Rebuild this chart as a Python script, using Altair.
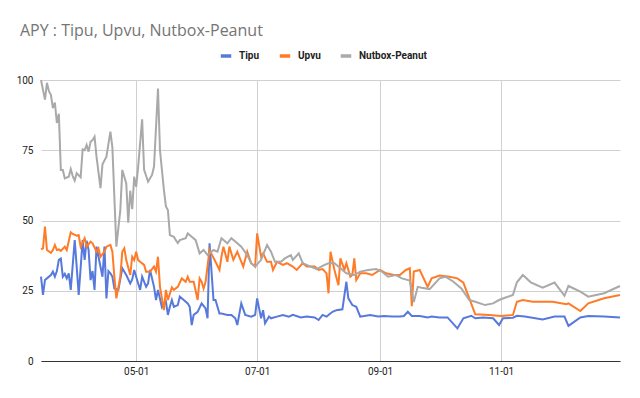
import altair as alt
import pandas as pd

START = "2021-03-14"

# day offsets from START and values
tipu_day = [0, 1, 2, 3, 5, 6, 7, 8, 9, 10, 11, 12, 13, 14, 15, 17, 18, 19, 21, 22, 23, 24, 25, 26, 27, 28, 29,
            31, 32, 33, 34, 35, 36, 37, 39, 41, 43, 45, 46, 47, 49, 50, 51, 53, 54, 55, 57, 58, 59, 61, 63, 64,
            65, 66, 67, 69, 70, 72, 74, 75, 76, 77, 79, 81, 83, 84, 85, 87, 88, 90, 91, 94, 96, 98, 99, 101,
            103, 106, 108, 109, 111, 112, 113, 115, 116, 119, 122, 125, 127, 131, 134, 138, 140, 142, 144, 147,
            149, 152, 154, 155, 157, 159, 161, 163, 166, 170, 173, 177, 181, 183, 185, 187, 191, 195, 197, 201,
            205, 210, 213, 217, 219, 223, 228, 231, 233, 238, 240, 244, 253, 259, 264, 266, 272, 276, 284, 292]
tipu_val = [30, 23.5, 28.8, 29.4, 30.6, 31.8, 30, 32, 36, 36.5, 30, 31, 29.4, 31.2, 25.3, 43, 33.6, 23.5, 43, 36,
            42.8, 39.5, 28.8, 32, 25.3, 40.7, 37.1, 30, 40.7, 22.3, 32, 31.2, 30, 25.8, 25.3, 33, 30.6, 27.6, 29,
            32.4, 27.6, 25.3, 30, 26.4, 27.6, 32.4, 26.4, 21.7, 25.3, 19.1, 21.1, 16.4, 19.3, 21.7, 19.3, 19.9,
            22.9, 21.7, 20.5, 19.3, 12.8, 16.4, 17.5, 20.5, 18.7, 15.2, 41.9, 21.7, 21.7, 16.9, 16.9, 16.4, 16.4,
            15.2, 12.8, 20.5, 16.4, 15.8, 16.4, 22.3, 15.2, 18.1, 13.4, 15.8, 15.2, 15.8, 16.4, 15.8, 16.4, 15.5,
            15.8, 15.5, 14.6, 16.4, 15.8, 17.5, 18.1, 18.4, 28.2, 22.3, 19.9, 19.3, 15.8, 16, 16.4, 15.8, 16, 15.8,
            15.8, 16, 17.5, 16, 16, 15.5, 15.8, 15.5, 15.5, 11.6, 15.2, 16.1, 15.2, 15.5, 15.2, 12.8, 15.2, 15.4,
            16.1, 15.8, 14.8, 15.8, 15.8, 12.5, 15.5, 16, 15.8, 15.5]

upvu_day = [0, 1, 2, 3, 5, 6, 7, 8, 9, 10, 12, 13, 15, 16, 18, 19, 20, 22, 23, 25, 26, 28, 29, 30, 32, 33, 35,
            36, 37, 38, 40, 41, 42, 43, 45, 46, 47, 48, 49, 50, 52, 53, 55, 57, 58, 59, 60, 62, 63, 64, 66, 67,
            69, 71, 73, 74, 75, 77, 79, 80, 81, 82, 83, 85, 88, 90, 91, 92, 94, 95, 97, 99, 100, 102, 104, 106,
            108, 109, 111, 112, 114, 116, 117, 119, 122, 124, 127, 129, 132, 134, 138, 140, 142, 144, 145, 146,
            148, 150, 151, 153, 154, 156, 157, 158, 159, 161, 164, 167, 171, 174, 178, 181, 184, 186, 187, 188,
            191, 195, 197, 201, 206, 210, 213, 216, 219, 226, 232, 238, 240, 243, 248, 258, 265, 266, 272, 276,
            284, 292]
upvu_val = [39.7, 40.1, 47.8, 39.5, 38.5, 39.5, 41.3, 39.5, 39.7, 39.2, 40.7, 39.5, 45.8, 45.2, 44.6, 44.8, 40.7,
            43.7, 40.7, 42.5, 41.9, 38.9, 40.1, 37.1, 38.9, 40.7, 41.3, 38.9, 30, 22.3, 30, 38.9, 40.1, 35.9, 30.6,
            37.1, 35.9, 38.9, 35.9, 35.3, 34.2, 31.8, 31.8, 33.6, 31.8, 37.1, 26.4, 18.1, 25.3, 21.7, 26.2, 25.3,
            26.4, 29.4, 28.2, 30, 28.2, 28.2, 21.7, 29.4, 28.2, 25.8, 28.2, 39.5, 35.3, 32.4, 37.1, 40.7, 35.3,
            40.7, 36, 38.9, 37.1, 33.6, 38.9, 34.8, 33.6, 45.4, 37.1, 38.3, 35.3, 35.3, 32.4, 35.3, 34.2, 34.8,
            33.6, 32.4, 34.8, 33.6, 33.6, 32.4, 32.7, 31.2, 24.1, 38.9, 32.4, 27, 36.5, 32.4, 34.8, 30, 30.6, 36.5,
            28.8, 31.2, 31.2, 30.6, 32.4, 31.2, 30.6, 30.6, 32.4, 33, 19.5, 31.8, 32.4, 26.4, 29.4, 30.4, 30, 29.4,
            27.9, 22.3, 16.6, 16.4, 16, 16.4, 21.1, 21.7, 21.1, 21.1, 20.2, 20.5, 17.8, 20.5, 22.3, 23.5]

nutbox_day = [0, 2, 3, 4, 5, 6, 7, 8, 9, 10, 11, 12, 14, 15, 16, 17, 18, 20, 21, 22, 23, 24, 25, 26, 27, 28, 30,
              31, 33, 35, 36, 38, 40, 41, 43, 44, 45, 46, 47, 48, 49, 51, 52, 54, 56, 57, 59, 60, 62, 63, 64, 65,
              67, 68, 69, 70, 73, 74, 76, 78, 80, 82, 84, 87, 89, 91, 94, 96, 99, 101, 104, 106, 108, 111, 114,
              116, 118, 121, 123, 126, 127, 130, 132, 136, 139, 143, 145, 148, 150, 154, 158, 161, 165, 169, 172,
              175, 179, 182, 186, 188, 190, 192, 196, 201, 204, 208, 212, 216, 219, 224, 228, 231, 234, 238, 240,
              243, 247, 253, 259, 264, 266, 272, 276, 284, 292]
nutbox_val = [100, 93, 99, 96, 94.7, 90, 92, 84.7, 88, 68, 68, 65, 65.6, 68.3, 65.8, 64.2, 66.8, 65.4, 75.3, 75,
              76.9, 74.5, 78, 78.6, 79.8, 72.7, 61.5, 70, 72.7, 81.6, 76, 40.7, 53.7, 68, 63.2, 49.2, 60.6, 54,
              65.6, 62, 69.2, 86, 68, 63.8, 66.2, 69.2, 97, 75, 60.8, 55, 53.7, 44.8, 44.2, 43, 42, 43, 43.7, 45.4,
              44.2, 43, 38.3, 39.5, 37.7, 39.5, 38.9, 43.7, 41.9, 43.7, 41.9, 40.7, 37.7, 34.8, 33.6, 36, 41.3,
              38.9, 35.3, 35.3, 36.5, 37.7, 36, 38.3, 34.8, 33.6, 32.7, 34.2, 34.8, 34.8, 33.6, 31.2, 30.6, 31.8,
              32.4, 32.7, 31.8, 30, 30.6, 29.4, 28.6, 21, 26.4, 26.1, 25.6, 29.4, 30, 28.2, 25.8, 21.7, 21.1, 19.9,
              20.5, 21.7, 22.5, 23.5, 28, 30.6, 28, 26.1, 27.9, 23.2, 26.7, 24.7, 22.9, 24.1, 26.7]

series_names = ["Tipu", "Upvu", "Nutbox-Peanut"]
series_colors = ["#5679DB", "#FF7B27", "#A9A9A9"]
tick_dates = ["2021-05-01", "2021-07-01", "2021-09-01", "2021-11-01"]
y_ticks = [0, 25, 50, 75, 100]

start = pd.Timestamp(START)
frames = []
for name, days, vals in zip(series_names, [tipu_day, upvu_day, nutbox_day], [tipu_val, upvu_val, nutbox_val]):
    frames.append(pd.DataFrame({
        "date": [(start + pd.Timedelta(days=d)).strftime("%Y-%m-%dT00:00:00") for d in days],
        "value": vals,
        "series": name,
        "order": series_names.index(name),
    }))
df = pd.concat(frames, ignore_index=True)

x_values = [alt.DateTime(year=int(t[:4]), month=int(t[5:7]), date=int(t[8:])) for t in tick_dates]

chart = alt.Chart(df).mark_line(strokeWidth=2, interpolate="linear").encode(
    x=alt.X("date:T",
            scale=alt.Scale(domain=[alt.DateTime(year=2021, month=3, date=14),
                                    alt.DateTime(year=2021, month=12, date=31)], nice=False),
            axis=alt.Axis(values=x_values, format="%m-%d", title=None, grid=True, gridColor="#d0d0d0",
                          domainColor="#333333", domainWidth=1, ticks=False, labelPadding=5,
                          labelFont="Roboto", labelFontSize=10, labelColor="#222222")),
    y=alt.Y("value:Q",
            scale=alt.Scale(domain=[0, 100], nice=False),
            axis=alt.Axis(values=y_ticks, title=None, grid=True, gridColor="#d0d0d0", domain=False,
                          ticks=False, labelPadding=8, labelFont="Roboto", labelFontSize=10,
                          labelColor="#222222")),
    color=alt.Color("series:N",
                    scale=alt.Scale(domain=series_names, range=series_colors),
                    legend=alt.Legend(title=None, orient="none", direction="horizontal",
                                      legendX=178, legendY=-31, symbolType="stroke",
                                      symbolStrokeWidth=3.5, symbolSize=110, labelFont="Roboto",
                                      labelFontSize=10, labelFontWeight="bold", labelColor="#222222",
                                      columnPadding=12, symbolOffset=0, labelOffset=6)),
    order=alt.Order("order:Q"),
    detail="series:N",
).properties(
    width=579,
    height=281,
    title=alt.TitleParams("APY : Tipu, Upvu, Nutbox-Peanut", anchor="start", frame="group", dx=-21,
                          offset=10, font="Open Sans", fontSize=16, fontWeight="normal", color="#757575"),
    autosize=alt.AutoSizeParams(type="none"),
    padding={"left": 33, "top": 72, "right": 12, "bottom": 29},
).configure_view(stroke=None)

chart.save("out.html", embed_options={"renderer": "svg", "actions": False})
